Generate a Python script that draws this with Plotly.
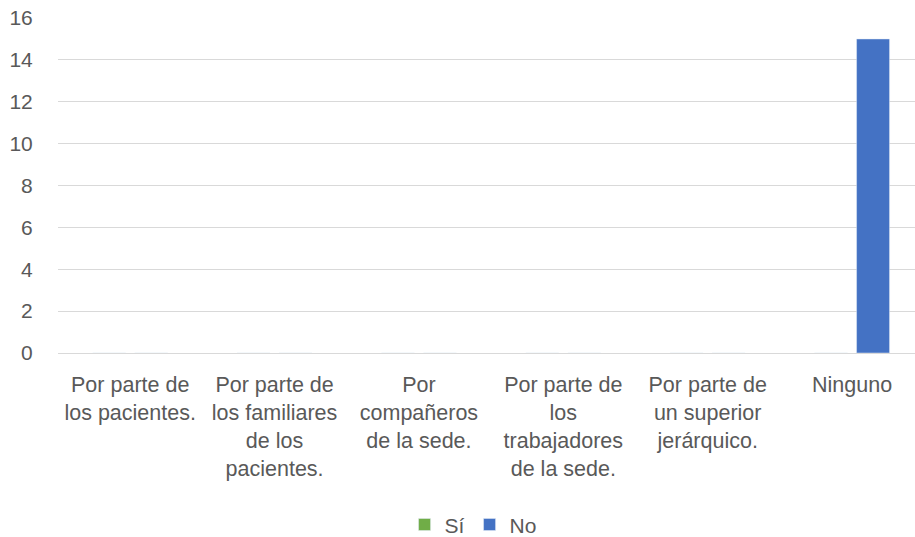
import plotly.graph_objects as go

categories = [
    "Por parte de<br>los pacientes.",
    "Por parte de<br>los familiares<br>de los<br>pacientes.",
    "Por<br>compañeros<br>de la sede.",
    "Por parte de<br>los<br>trabajadores<br>de la sede.",
    "Por parte de<br>un superior<br>jerárquico.",
    "Ninguno",
]
si_values = [0, 0, 0, 0, 0, 0]
no_values = [0, 0, 0, 0, 0, 15]
y_ticks = [0, 2, 4, 6, 8, 10, 12, 14, 16]

FONT = "Liberation Sans"
TXT = "#595959"

fig = go.Figure()
fig.add_trace(go.Bar(x=categories, y=si_values, name="Sí", marker_color="#70AD47"))
fig.add_trace(go.Bar(x=categories, y=no_values, name="No", marker_color="#4472C4"))

fig.update_layout(
    width=915, height=537,
    margin=dict(l=58, r=0, t=18, b=184, autoexpand=False),
    paper_bgcolor="white", plot_bgcolor="white",
    barmode="group", bargap=0.418, bargroupgap=0.215,
    font=dict(family=FONT, size=21, color=TXT),
    showlegend=True,
    legend=dict(orientation="h", xref="container", yref="paper",
                x=0.517, xanchor="center", y=-0.513, yanchor="middle",
                font=dict(family=FONT, size=21, color=TXT),
                itemwidth=30, tracegroupgap=0),
)
fig.update_xaxes(
    type="category", range=[-0.5, 5.436], automargin=False,
    showgrid=False, showline=False, zeroline=False,
    ticks="outside", ticklen=12, tickcolor="rgba(0,0,0,0)",
    ticklabeloverflow="allow",
    tickfont=dict(family=FONT, size=21.5, color=TXT),
)
fig.update_yaxes(
    range=[0, 16], tickvals=y_ticks, automargin=False,
    showgrid=True, gridcolor="#D9D9D9", gridwidth=1.3,
    zeroline=True, zerolinecolor="#D9D9D9", zerolinewidth=1.3,
    showline=False, ticklabeloverflow="allow",
    ticks="outside", ticklen=20, tickcolor="rgba(0,0,0,0)",
    tickfont=dict(family=FONT, size=21, color=TXT),
)

fig.write_html("out.html", config={"displayModeBar": False},
               post_script="document.body.style.margin='0';")
